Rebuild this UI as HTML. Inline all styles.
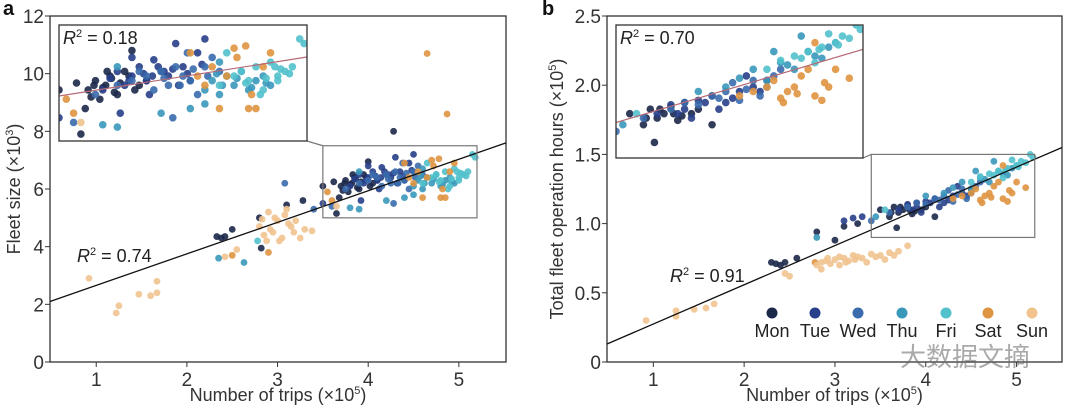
<!DOCTYPE html>
<html><head><meta charset="utf-8"><style>
body{margin:0;background:#fff;width:1080px;height:407px;overflow:hidden}
svg{font-family:"Liberation Sans",Arial,sans-serif}
</style></head><body>
<svg id="chart" width="1080" height="407"></svg>
<script>
const days=["Mon","Tue","Wed","Thu","Fri","Sat","Sun"];
const dayColors=["#1c2849","#283f8a","#3a6cad","#3a98bb","#52c1cc","#df9440","#f1c38f"];
const aTicksX=[1,2,3,4,5];
const aTicksY=[0,2,4,6,8,10,12];
const bTicksX=[1,2,3,4,5];
const bTicksY=["0","0.5","1.0","1.5","2.0","2.5"];
const aX=[
[2.33,2.38,2.42,2.5,2.8,2.82,3.1,3.28,3.5,3.62,3.7,3.75,3.78,3.82,3.85,3.9,3.95,4.0,4.05,4.1,3.68,3.72,3.88,3.65,4.28,3.8,3.86,3.92,3.98,4.02,3.74,3.83],
[3.8,3.85,3.9,3.95,4.0,4.05,4.1,4.15,4.2,4.25,4.3,4.35,4.4,4.45,4.5,3.92,4.12,4.22,4.32,4.0,3.5,4.08,4.18,4.28,4.38,4.48,3.98,4.14],
[3.6,3.75,3.9,4.0,4.1,4.15,4.2,4.25,4.3,4.35,4.4,4.5,4.55,4.6,4.28,4.45,3.08,3.4,4.38,4.05,4.22,4.33,4.42,4.52],
[3.8,3.9,4.2,4.4,4.5,4.55,4.6,4.65,4.7,4.75,4.8,4.85,4.9,4.95,4.5,4.6,2.35,2.63,3.9,4.62,4.72,4.82,4.92,4.58],
[4.6,4.7,4.75,4.8,4.85,4.9,4.95,5.0,5.05,5.1,5.15,5.18,4.65,4.88,5.0,2.78,4.92,5.02,5.08,4.78,4.98],
[4.4,4.45,4.5,4.55,4.6,4.65,4.7,4.72,4.78,4.8,4.82,4.85,4.9,4.95,4.65,4.87,3.55,3.6,2.9,2.5],
[2.8,2.85,2.9,2.95,3.0,3.05,3.1,3.15,3.2,3.25,3.3,3.38,2.88,2.97,3.12,2.42,2.55,0.92,1.22,1.25,1.47,1.6,1.67,1.67,3.65,2.92,3.02,3.08,3.18,2.83]];
const aY=[
[4.35,4.3,4.35,4.6,5.0,3.95,5.45,5.6,6.1,6.25,6.1,6.3,5.9,6.2,6.4,6.0,6.5,6.95,6.2,6.3,5.7,5.95,6.05,5.15,8.0,6.15,6.35,6.25,6.4,6.1,6.2,6.5],
[6.1,6.35,6.5,6.2,6.4,6.6,6.3,6.75,6.5,6.4,7.1,6.6,6.3,6.9,7.2,5.6,6.0,6.5,6.2,6.8,5.5,6.45,6.6,6.55,6.45,6.65,6.3,6.4],
[5.4,6.0,6.2,6.3,6.4,6.1,6.5,6.2,6.6,6.4,6.3,6.6,6.8,6.5,5.5,6.0,6.2,5.3,6.9,6.5,6.35,6.2,6.55,6.4],
[5.35,5.3,5.6,5.7,6.1,6.3,6.0,6.4,6.2,6.5,6.1,6.3,6.4,6.2,5.8,6.7,3.6,3.45,6.6,6.2,6.35,6.15,6.25,6.45],
[6.2,6.4,6.5,6.3,6.6,6.1,6.7,6.4,6.5,6.6,7.2,7.1,6.9,6.0,6.3,4.2,6.35,6.55,6.45,6.25,6.6],
[6.9,6.4,6.2,6.6,5.7,6.4,7.0,6.8,7.05,5.7,6.0,5.7,6.6,6.9,10.7,8.6,5.9,5.6,3.8,3.7],
[4.7,4.4,5.2,4.5,4.9,4.3,5.3,4.7,4.9,4.3,4.6,4.55,4.2,5.0,4.8,3.65,3.9,2.9,1.7,1.95,2.35,2.3,2.4,2.8,5.4,4.6,4.2,5.1,4.5,4.95]];
const bX=[
[2.3,2.35,2.4,2.45,2.58,2.8,3.0,3.1,3.25,3.5,3.6,3.65,3.7,3.75,3.8,3.85,3.9,3.95,4.0,4.1,3.68,3.72,3.82,3.88,3.62],
[3.1,3.2,3.3,3.7,3.8,3.9,4.0,4.1,4.2,4.3,4.4,4.5,3.95,4.15,4.35,3.85,4.05,4.25,4.45],
[3.4,3.6,3.8,3.9,4.0,4.1,4.2,4.3,4.4,4.5,4.6,4.25,4.45,4.15,4.35,4.55],
[2.8,3.45,4.2,4.3,4.4,4.5,4.6,4.7,4.8,4.9,5.0,4.55,4.75,4.0,4.65,4.85,4.95],
[4.5,4.6,4.7,4.8,4.9,5.0,5.05,5.1,5.15,5.18,4.85,4.95,3.55,4.75,4.88,5.02],
[4.3,4.4,4.5,4.55,4.6,4.65,4.7,4.75,4.8,4.85,4.9,4.95,5.0,5.1,4.85,2.78,4.62,4.72,4.92],
[2.8,2.85,2.9,2.95,3.0,3.05,3.1,3.15,3.2,3.25,3.3,3.4,3.5,3.6,3.7,2.85,3.05,3.35,2.45,2.5,0.92,1.25,1.25,1.45,1.58,1.67,3.8,2.92,3.12,3.22,3.45,3.55,3.65]];
const bY=[
[0.72,0.71,0.7,0.72,0.75,0.94,0.88,0.98,1.0,1.1,1.05,1.12,1.08,1.1,1.13,1.07,1.15,1.1,1.12,1.05,0.97,1.12,1.1,1.09,1.08],
[1.02,1.04,1.05,1.1,1.14,1.12,1.16,1.18,1.15,1.2,1.22,1.25,1.08,1.12,1.27,1.1,1.15,1.17,1.2],
[1.02,1.08,1.12,1.15,1.14,1.18,1.2,1.16,1.25,1.22,1.3,1.24,1.18,1.17,1.21,1.27],
[0.9,1.05,1.22,1.26,1.3,1.25,1.33,1.3,1.38,1.35,1.42,1.38,1.45,1.2,1.32,1.36,1.4],
[1.3,1.34,1.36,1.38,1.4,1.42,1.45,1.44,1.5,1.48,1.33,1.46,1.1,1.35,1.39,1.41],
[1.18,1.2,1.22,1.25,1.17,1.2,1.22,1.27,1.3,1.18,1.16,1.22,1.3,1.26,1.42,0.72,1.15,1.19,1.24],
[0.7,0.72,0.73,0.71,0.74,0.76,0.75,0.73,0.77,0.76,0.75,0.78,0.77,0.79,0.8,0.67,0.7,0.72,0.64,0.62,0.3,0.37,0.33,0.38,0.39,0.42,0.84,0.75,0.72,0.74,0.76,0.74,0.77]];
const aFit=[2.1,7.6];
const aInsetFit=[5.97,6.81];
const bFit=[0.13,1.55];
const bInsetFit=[1.06,1.39];

const NS="http://www.w3.org/2000/svg";
const svg=document.getElementById('chart');
function el(t,a,p){const e=document.createElementNS(NS,t);for(const k in a)e.setAttribute(k,a[k]);(p||svg).appendChild(e);return e;}
function lin(d0,d1,r0,r1){return v=>r0+(v-d0)/(d1-d0)*(r1-r0);}

function panel(o){
  const g=el('g',{});
  
  
  const sx=lin(o.xd[0],o.xd[1],o.L,o.R), sy=lin(o.yd[0],o.yd[1],o.B,o.T);
  const fr=el('rect',{x:o.L,y:o.T,width:o.R-o.L,height:o.B-o.T,fill:'none',stroke:'#333','stroke-width':1.3},g);
  
  o.tx.forEach(t=>{
    const x=sx(t);
    el('line',{x1:x,x2:x,y1:o.B,y2:o.B+5,stroke:'#333'},g);
    const tt=el('text',{x:x,y:o.B+24,'text-anchor':'middle','font-size':19,fill:'#333'},g);tt.textContent=t;
    
  });
  o.ty.forEach(t=>{
    const y=sy(parseFloat(t));
    el('line',{x1:o.L-5,x2:o.L,y1:y,y2:y,stroke:'#333'},g);
    const tt=el('text',{x:o.L-6,y:y+7,'text-anchor':'end','font-size':19,fill:'#333'},g);tt.textContent=t;
    
  });
  for(let d=0;d<7;d++){o.X[d].forEach((xv,i)=>{
    const c=el('circle',{cx:sx(xv),cy:sy(o.Y[d][i]),r:3.4,fill:dayColors[d],opacity:0.9},g);
    
  });}
  const fl=el('line',{x1:o.L,y1:sy(o.fit[0]),x2:o.R,y2:sy(o.fit[1]),stroke:'#111','stroke-width':1.3},g);
  
  const zb=o.zoom;
  const zx0=sx(zb.x[0]),zx1=sx(zb.x[1]),zy0=sy(zb.y[1]),zy1=sy(zb.y[0]);
  const zr=el('rect',{x:zx0,y:zy0,width:zx1-zx0,height:zy1-zy0,fill:'none',stroke:'#777','stroke-width':1.2},g);
  
  el('line',{x1:o.inset.R,y1:o.inset.B,x2:zx0,y2:zy0,stroke:'#777','stroke-width':1.2},g);
  const I=o.inset;
  const ix=lin(zb.x[0],zb.x[1],I.L,I.R), iy=lin(zb.y[0],zb.y[1],I.B,I.T);
  const cp=el('clipPath',{id:'clip'+o.id},g);el('rect',{x:I.L,y:I.T,width:I.R-I.L,height:I.B-I.T},cp);
  el('rect',{x:I.L,y:I.T,width:I.R-I.L,height:I.B-I.T,fill:'#fff'},g);
  const ig=el('g',{'clip-path':'url(#clip'+o.id+')'},g);
  for(let d=0;d<7;d++){o.X[d].forEach((xv,i)=>{
    const yv=o.Y[d][i];
    if(xv<zb.x[0]-0.05||xv>zb.x[1]+0.05||yv<zb.y[0]-0.1||yv>zb.y[1]+0.1)return;
    const c=el('circle',{cx:ix(xv),cy:iy(yv),r:3.8,fill:dayColors[d],opacity:0.9},ig);
    
  });}
  const il=el('line',{x1:I.L,y1:iy(o.ifit[0]),x2:I.R,y2:iy(o.ifit[1]),stroke:'#b56a74','stroke-width':1.2},ig);
  
  const ir=el('rect',{x:I.L,y:I.T,width:I.R-I.L,height:I.B-I.T,fill:'none',stroke:'#333','stroke-width':1.3},g);
  
  function r2(x,y,v,n){const t=el('text',{x:x,y:y,'font-size':18,fill:'#222'},g);
    t.innerHTML='<tspan font-style="italic">R</tspan><tspan font-size="11" dy="-7">2</tspan><tspan dy="7"> = '+v+'</tspan>';
    }
  r2(I.L+4,I.T+19,o.r2i,'inset-r-squared');
  r2(o.r2pos[0],o.r2pos[1],o.r2,'r-squared-label');
  const xt=el('text',{x:(o.L+o.R)/2,y:401,'text-anchor':'middle','font-size':18,fill:'#333'},g);
  xt.innerHTML='Number of trips (×10<tspan font-size="11" dy="-7">5</tspan><tspan dy="7">)</tspan>';
  
  const yt=el('text',{x:0,y:0,'text-anchor':'middle','font-size':18,fill:'#333',transform:'translate('+o.ytx+','+(o.T+o.B)/2+') rotate(-90)'},g);
  yt.innerHTML=o.ytitle;
  
  const pl=el('text',{x:o.plx,y:15,'font-size':20,'font-weight':'bold',fill:'#111'},g);pl.textContent=o.id;
  
}
panel({id:'a',name:'panel-a',L:50,R:506,T:16,B:362,xd:[0.49,5.52],yd:[0,12],tx:aTicksX,ty:aTicksY.map(String),
  X:aX,Y:aY,fit:aFit,ifit:aInsetFit,zoom:{x:[3.5,5.2],y:[5,7.5]},inset:{L:59,R:307,T:25,B:141},
  r2:'0.74',r2i:'0.18',r2pos:[77,262],ytx:20,plx:3,
  ytitle:'Fleet size (×10<tspan font-size="11" dy="-7">3</tspan><tspan dy="7">)</tspan>'});
panel({id:'b',name:'panel-b',L:607,R:1062,T:16,B:362,xd:[0.49,5.5],yd:[0,2.5],tx:bTicksX,ty:bTicksY,
  X:bX,Y:bY,fit:bFit,ifit:bInsetFit,zoom:{x:[3.4,5.2],y:[0.9,1.5]},inset:{L:616,R:863,T:25,B:158},
  r2:'0.91',r2i:'0.70',r2pos:[670,282],ytx:563,plx:542,
  ytitle:'Total fleet operation hours (×10<tspan font-size="11" dy="-7">5</tspan><tspan dy="7">)</tspan>'});
const legX=[772,815,858,902,946,988,1032];
const lg=el('g',{});

days.forEach((d,i)=>{
  const c=el('circle',{cx:legX[i],cy:313,r:5.5,fill:dayColors[i]},lg);
  
  const t=el('text',{x:legX[i],y:337,'text-anchor':'middle','font-size':18,fill:'#222'},lg);t.textContent=d;
  
});
const wm=el('text',{x:900,y:366,'font-size':26,fill:'#666',opacity:0.55,'font-family':'"Liberation Sans","Noto Sans CJK SC",sans-serif'});
wm.textContent='大数据文摘';

</script>
</body></html>
